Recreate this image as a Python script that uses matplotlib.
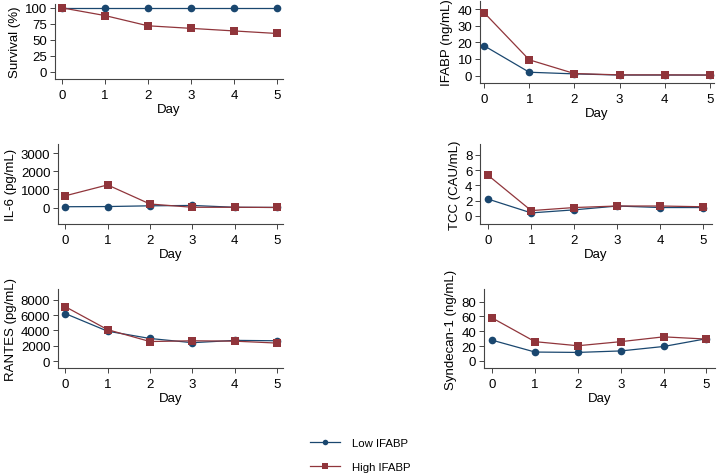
import matplotlib
matplotlib.use("Agg")
import matplotlib.pyplot as plt
from matplotlib.lines import Line2D

plt.rcParams['font.family'] = ['Liberation Sans', 'DejaVu Sans']

days = [0, 1, 2, 3, 4, 5]
series_labels = ["Low IFABP", "High IFABP"]

survival_low = [100, 100, 100, 100, 100, 100]
survival_high = [100, 88, 72, 68, 64, 60]
ifabp_low = [18, 2, 1, 0.3, 0.3, 0.3]
ifabp_high = [38, 9.5, 1.2, 0.4, 0.4, 0.3]
il6_low = [50, 60, 100, 120, 20, 10]
il6_high = [650, 1250, 200, 20, 20, 10]
tcc_low = [2.2, 0.4, 0.8, 1.3, 1.1, 1.1]
tcc_high = [5.3, 0.7, 1.1, 1.3, 1.3, 1.2]
rantes_low = [6200, 3900, 2950, 2400, 2700, 2650]
rantes_high = [7100, 4100, 2550, 2650, 2600, 2350]
syndecan_low = [28, 12, 11.5, 13.5, 19.5, 30]
syndecan_high = [58, 26, 20.5, 26, 32.5, 29.5]

ylabels = ["Survival (%)", "IFABP (ng/mL)", "IL-6 (pg/mL)", "TCC (CAU/mL)",
           "RANTES (pg/mL)", "Syndecan-1 (ng/mL)"]
yticks = [[0, 25, 50, 75, 100], [0, 10, 20, 30, 40], [0, 1000, 2000, 3000],
          [0, 2, 4, 6, 8], [0, 2000, 4000, 6000, 8000], [0, 20, 40, 60, 80]]
ylims = [(-11, 106), (-4.5, 45), (-900, 3500), (-1.05, 9.4), (-900, 9400), (-9.5, 97)]

low_data = [survival_low, ifabp_low, il6_low, tcc_low, rantes_low, syndecan_low]
high_data = [survival_high, ifabp_high, il6_high, tcc_high, rantes_high, syndecan_high]

W, H = 721, 477
# left, right, top, bottom in pixels
boxes = [(55, 283, 5, 80), (480, 714, 2, 84), (58, 283, 145, 225),
         (480, 712, 145, 225), (58, 283, 290, 369), (484, 715, 290, 369)]
xlims = [(-0.16, 5.14), (-0.09, 5.09), (-0.17, 5.14), (-0.19, 5.2), (-0.17, 5.14), (-0.19, 5.2)]

blue = '#1a476f'
red = '#90353b'
fs = 9.5

fig = plt.figure(figsize=(W / 100, H / 100), dpi=100)
for i in range(6):
    l, r, t, b = boxes[i]
    ax = fig.add_axes([l / W, 1 - b / H, (r - l) / W, (b - t) / H])
    ax.plot(days, low_data[i], color=blue, marker='o', markersize=5.5, linewidth=0.9,
            markeredgewidth=0, label=series_labels[0], zorder=3)
    ax.plot(days, high_data[i], color=red, marker='s', markersize=5.3, linewidth=0.9,
            markeredgewidth=0, label=series_labels[1], zorder=3)
    ax.set_xlim(*xlims[i])
    ax.set_ylim(*ylims[i])
    ax.set_xticks(days)
    ax.set_yticks(yticks[i])
    ax.spines['top'].set_visible(False)
    ax.spines['right'].set_visible(False)
    for s in ('left', 'bottom'):
        ax.spines[s].set_color('#444444')
        ax.spines[s].set_linewidth(0.8)
    ax.tick_params(axis='both', labelsize=fs, length=3.5, width=0.7, color='#444444', pad=2)
    ax.tick_params(axis='x', pad=3.5)
    ax.set_xlabel("Day", fontsize=fs, labelpad=1.5)
    ax.set_ylabel(ylabels[i], fontsize=fs, labelpad=3)

handles = [Line2D([0], [0], color=blue, marker='o', markersize=4, linewidth=0.9, markeredgewidth=0),
           Line2D([0], [0], color=red, marker='s', markersize=4, linewidth=0.9, markeredgewidth=0)]
fig.legend(handles, series_labels, loc='center left', bbox_to_anchor=(300 / W, 1 - 456 / H),
           frameon=False, fontsize=8.2, handlelength=2.6, labelspacing=1.2, handletextpad=1.1)

fig.savefig("out.png", dpi=100)
